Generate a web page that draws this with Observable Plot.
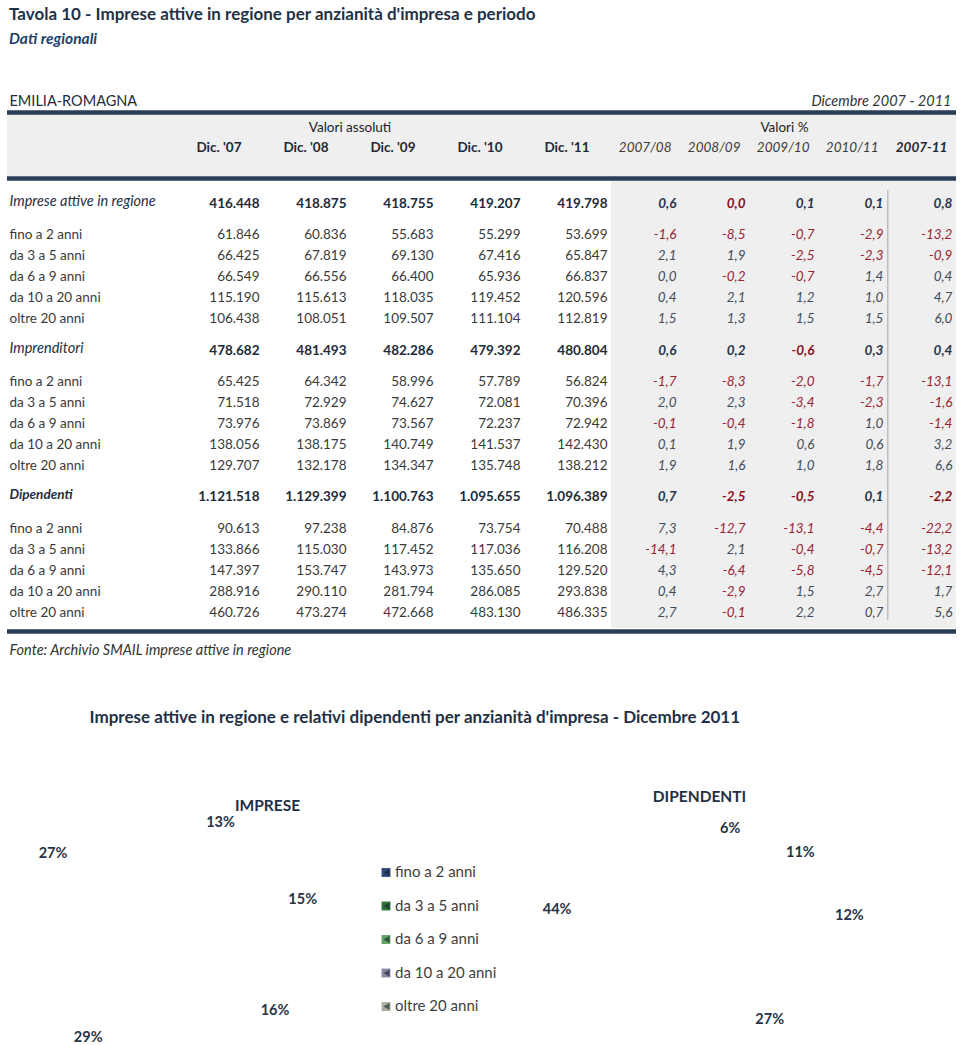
<!DOCTYPE html>
<html lang="it">
<head>
<meta charset="utf-8">
<script src="https://cdn.jsdelivr.net/npm/d3@7"></script>
<script src="https://cdn.jsdelivr.net/npm/@observablehq/plot@0.6"></script>
<style>
  html,body{margin:0;padding:0;background:#fff;}
  #page{position:relative;width:960px;height:1045px;overflow:hidden;font-family:Lato,"Open Sans",sans-serif;}
  #title{position:absolute;left:9px;top:3px;font-size:17px;font-weight:700;color:#1f3247;line-height:22px;white-space:nowrap;}
  #subtitle{position:absolute;left:9px;top:27px;font-size:15.5px;font-weight:700;font-style:italic;color:#1f3f6e;line-height:22px;}
  #table{position:absolute;left:0;top:50px;}
  #pies{position:absolute;left:0;top:670px;}
  svg{display:block;}
</style>
</head>
<body>
<div id="page">
  <div id="title">Tavola 10 - Imprese attive in regione per anzianità d'impresa e periodo</div>
  <div id="subtitle">Dati regionali</div>
  <div id="table"></div>
  <div id="pies"></div>
</div>
<script>
// ---------------- DATA ----------------
const regionName = "EMILIA-ROMAGNA";
const periodLabel = "Dicembre 2007 - 2011";
const absGroupLabel = "Valori assoluti";
const pctGroupLabel = "Valori %";
const absHeaders = ["Dic. '07", "Dic. '08", "Dic. '09", "Dic. '10", "Dic. '11"];
const pctHeaders = ["2007/08", "2008/09", "2009/10", "2010/11", "2007-11"];
const groups = ["Imprese attive in regione", "Imprenditori", "Dipendenti"];
const ageClasses = ["fino a 2 anni", "da 3 a 5 anni", "da 6 a 9 anni", "da 10 a 20 anni", "oltre 20 anni"];

const impreseTot = [416448, 418875, 418755, 419207, 419798];
const impreseByAge = [
  [61846, 60836, 55683, 55299, 53699],
  [66425, 67819, 69130, 67416, 65847],
  [66549, 66556, 66400, 65936, 66837],
  [115190, 115613, 118035, 119452, 120596],
  [106438, 108051, 109507, 111104, 112819]
];
const impresePctTot = [0.6, -0.0, 0.1, 0.1, 0.8];
const impresePctByAge = [
  [-1.6, -8.5, -0.7, -2.9, -13.2],
  [2.1, 1.9, -2.5, -2.3, -0.9],
  [0.0, -0.2, -0.7, 1.4, 0.4],
  [0.4, 2.1, 1.2, 1.0, 4.7],
  [1.5, 1.3, 1.5, 1.5, 6.0]
];
const imprenditoriTot = [478682, 481493, 482286, 479392, 480804];
const imprenditoriByAge = [
  [65425, 64342, 58996, 57789, 56824],
  [71518, 72929, 74627, 72081, 70396],
  [73976, 73869, 73567, 72237, 72942],
  [138056, 138175, 140749, 141537, 142430],
  [129707, 132178, 134347, 135748, 138212]
];
const imprenditoriPctTot = [0.6, 0.2, -0.6, 0.3, 0.4];
const imprenditoriPctByAge = [
  [-1.7, -8.3, -2.0, -1.7, -13.1],
  [2.0, 2.3, -3.4, -2.3, -1.6],
  [-0.1, -0.4, -1.8, 1.0, -1.4],
  [0.1, 1.9, 0.6, 0.6, 3.2],
  [1.9, 1.6, 1.0, 1.8, 6.6]
];
const dipendentiTot = [1121518, 1129399, 1100763, 1095655, 1096389];
const dipendentiByAge = [
  [90613, 97238, 84876, 73754, 70488],
  [133866, 115030, 117452, 117036, 116208],
  [147397, 153747, 143973, 135650, 129520],
  [288916, 290110, 281794, 286085, 293838],
  [460726, 473274, 472668, 483130, 486335]
];
const dipendentiPctTot = [0.7, -2.5, -0.5, 0.1, -2.2];
const dipendentiPctByAge = [
  [7.3, -12.7, -13.1, -4.4, -22.2],
  [-14.1, 2.1, -0.4, -0.7, -13.2],
  [4.3, -6.4, -5.8, -4.5, -12.1],
  [0.4, -2.9, 1.5, 2.7, 1.7],
  [2.7, -0.1, 2.2, 0.7, 5.6]
];
const sourceNote = "Fonte: Archivio SMAIL imprese attive in regione";

const pieTitle = "Imprese attive in regione e relativi dipendenti per anzianità d'impresa - Dicembre 2011";
const pieNames = ["IMPRESE", "DIPENDENTI"];
const impresePieShares = [13, 15, 16, 29, 27];
const dipendentiPieShares = [6, 11, 12, 27, 44];
const ageColors = ["#2e4a7a", "#2f7436", "#5fa35f", "#8a86a3", "#a7ae9a"];

// ---------------- HELPERS ----------------
const itLocale = d3.formatLocale({decimal: ",", thousands: ".", grouping: [3], currency: ["", ""]});
const fmtInt = itLocale.format(",d");
const fmtPct = v => (v < 0 ? "-" : "") + Math.abs(v).toFixed(1).replace(".", ",");
const isNeg = v => v < 0 || Object.is(v, -0);

const FONT = "Lato, 'Open Sans', sans-serif";
const NAVY = "#2b3e57";

// column positions (x units: one unit per absolute column)
const absX = absHeaders.map((_, i) => i);
const pctX = pctHeaders.map((_, j) => 4 + 0.793 * (j + 1));

// row positions (y units: half-row slots)
const sections = [
  {label: groups[0], tot: impreseTot, byAge: impreseByAge, pctTot: impresePctTot, pctByAge: impresePctByAge},
  {label: groups[1], tot: imprenditoriTot, byAge: imprenditoriByAge, pctTot: imprenditoriPctTot, pctByAge: imprenditoriPctByAge},
  {label: groups[2], tot: dipendentiTot, byAge: dipendentiByAge, pctTot: dipendentiPctTot, pctByAge: dipendentiPctByAge}
];
const rows = [];
sections.forEach((s, g) => {
  rows.push({slot: g * 14, label: s.label, abs: s.tot, pct: s.pctTot, group: true, g});
  ageClasses.forEach((a, r) => rows.push({slot: g * 14 + 3 + 2 * r, label: a, abs: s.byAge[r], pct: s.pctByAge[r], group: false, g}));
});
const cells = rows.flatMap(row => [
  ...row.abs.map((v, i) => ({slot: row.slot, x: absX[i], text: fmtInt(v), group: row.group, pct: false, neg: false})),
  ...row.pct.map((v, j) => ({slot: row.slot, x: pctX[j], text: fmtPct(v), group: row.group, pct: true, neg: isNeg(v)}))
]);

// layout of the table frame, in slot units
const L = {
  regionRow: -9.73, topRule: -8.68, bandTop: -8.49, bandBottom: -2.57,
  groupHdrRow: -7.25, colHdrRow: -5.34, midRule: -2.38,
  pctTop: -2.1, pctBottom: 40.53, vTop: -1.24, vBottom: 39.76,
  bottomRule: 40.81, noteRow: 42.62
};

const absCells = cells.filter(d => !d.pct);
const pctCells = cells.filter(d => d.pct);
const pctColor = d => d.neg ? (d.group ? "#8a1020" : "#9a2232") : (d.group ? "#27354a" : "#434c5a");

const table = Plot.plot({
  width: 960, height: 620,
  marginLeft: 7, marginRight: 4, marginTop: 0, marginBottom: 0,
  x: {type: "linear", domain: [0, 4], range: [259, 607], axis: null},
  y: {type: "linear", domain: [0, 39], range: [153, 562], axis: null},
  style: {fontFamily: FONT, background: "#fff", overflow: "visible"},
  marks: [
    Plot.rect([{y1: L.bandTop, y2: L.bandBottom}], {y1: "y1", y2: "y2", fill: "#efefef"}),
    Plot.rect([{x1: 4.045, x2: 8.01, y1: L.pctTop, y2: L.pctBottom}], {x1: "x1", x2: "x2", y1: "y1", y2: "y2", fill: "#efefef"}),
    Plot.ruleY([L.topRule, L.midRule, L.bottomRule], {stroke: NAVY, strokeWidth: 4.5}),
    Plot.ruleX([{x: pctX[3] + 0.05, y1: L.vTop, y2: L.vBottom}], {x: "x", y1: "y1", y2: "y2", stroke: "#a8a8a8", strokeWidth: 1}),
    // heading row
    Plot.text([regionName], {y: () => L.regionRow, text: d => d, frameAnchor: "left", textAnchor: "start", dx: 2, fontSize: 14.5, fill: "#222d3a"}),
    Plot.text([periodLabel], {y: () => L.regionRow, text: d => d, frameAnchor: "right", textAnchor: "end", dx: -5, fontSize: 14.5, fontStyle: "italic", fill: "#333"}),
    Plot.text([absGroupLabel], {x: () => (absX[1] + absX[2]) / 2, y: () => L.groupHdrRow, text: d => d, dx: -40, fontSize: 13.5, fill: "#222"}),
    Plot.text([pctGroupLabel], {x: () => pctX[2], y: () => L.groupHdrRow, text: d => d, dx: -30, fontSize: 13.5, fill: "#222"}),
    Plot.text(absHeaders, {x: (d, i) => absX[i], y: () => L.colHdrRow, text: d => d, textAnchor: "end", dx: -18, fontSize: 13.5, fontWeight: "bold", fill: "#1f2a36"}),
    Plot.text(pctHeaders.slice(0, 4), {x: (d, i) => pctX[i], y: () => L.colHdrRow, text: d => d, textAnchor: "end", dx: -5, fontSize: 13.5, fontStyle: "italic", fill: "#3a3a3a"}),
    Plot.text(pctHeaders.slice(4), {x: () => pctX[4], y: () => L.colHdrRow, text: d => d, textAnchor: "end", dx: -5, fontSize: 13.5, fontStyle: "italic", fontWeight: "bold", fill: "#1f2a36"}),
    // row labels
    Plot.text(rows.filter(r => !r.group), {y: "slot", text: "label", frameAnchor: "left", textAnchor: "start", dx: 2, fontSize: 13.5, fill: "#3a3a3a"}),
    Plot.text(rows.filter(r => r.group && r.g < 2), {y: "slot", text: "label", frameAnchor: "left", textAnchor: "start", dx: 2, dy: -2, fontSize: 14.5, fontStyle: "italic", fill: "#1f2f45"}),
    Plot.text(rows.filter(r => r.group && r.g === 2), {y: "slot", text: "label", frameAnchor: "left", textAnchor: "start", dx: 2, dy: -2, fontSize: 13.5, fontStyle: "italic", fontWeight: "bold", fill: "#1f2f45"}),
    // absolute values
    Plot.text(absCells.filter(d => !d.group), {x: "x", y: "slot", text: "text", textAnchor: "end", fontSize: 13.5, fill: "#3a3a3a"}),
    Plot.text(absCells.filter(d => d.group), {x: "x", y: "slot", text: "text", textAnchor: "end", fontSize: 13.5, fontWeight: "bold", fill: "#222c3a"}),
    // percentage values
    Plot.text(pctCells.filter(d => !d.group), {x: "x", y: "slot", text: "text", textAnchor: "end", fontSize: 13.5, fontStyle: "italic", fill: pctColor}),
    Plot.text(pctCells.filter(d => d.group), {x: "x", y: "slot", text: "text", textAnchor: "end", fontSize: 13.5, fontStyle: "italic", fontWeight: "bold", fill: pctColor}),
    // source
    Plot.text([sourceNote], {y: () => L.noteRow, text: d => d, frameAnchor: "left", textAnchor: "start", dx: 2, fontSize: 14.5, fontStyle: "italic", fill: "#333"})
  ]
});
document.getElementById("table").append(table);

// ---------------- PIES (labels only, as in the reference) ----------------
function pieLabels(shares, cx, cy, rx, ry, name) {
  const arcs = d3.pie().sort(null).value(d => d)(shares);
  return arcs.map((a, i) => {
    const t = (a.startAngle + a.endAngle) / 2;
    return {x: cx + rx * Math.sin(t), y: cy - ry * Math.cos(t), text: shares[i] + "%", pie: name, age: ageClasses[i]};
  });
}
const pieGeom = [
  {name: pieNames[0], shares: impresePieShares, cx: 162, cy: 263, rx: 146, ry: 121, titleX: 267, titleY: 136},
  {name: pieNames[1], shares: dipendentiPieShares, cx: 702, cy: 258, rx: 148, ry: 102, titleX: 699, titleY: 127}
];
const labels = pieGeom.flatMap(p => pieLabels(p.shares, p.cx, p.cy, p.rx, p.ry, p.name));
const legendX = 385.5, legendTop = 202, legendStep = 33.5;
const legend = ageClasses.map((a, i) => ({name: a, color: ageColors[i], x: legendX, y: legendTop + i * legendStep}));

const pies = Plot.plot({
  width: 960, height: 375, margin: 0,
  x: {type: "linear", domain: [0, 960], range: [0, 960], axis: null},
  y: {type: "linear", domain: [0, 375], range: [0, 375], axis: null},
  style: {fontFamily: FONT, background: "#fff", overflow: "visible"},
  marks: [
    Plot.text([pieTitle], {x: () => 89, y: () => 47, text: d => d, textAnchor: "start", fontSize: 17, fontWeight: "bold", fill: "#1f3046"}),
    Plot.text(pieGeom, {x: "titleX", y: "titleY", text: "name", fontSize: 15.5, fontWeight: "bold", fill: "#1f2f45"}),
    Plot.text(labels, {x: "x", y: "y", text: "text", fontSize: 14.5, fontWeight: "bold", fill: "#263447"}),
    Plot.dot(legend, {x: "x", y: "y", symbol: "square", r: 5, fill: "color"}),
    Plot.dot(legend, {x: "x", y: "y", symbol: "triangle", r: 2.6, rotate: -90, dx: 1.5, fill: "#15202e", fillOpacity: 0.6}),
    Plot.text(legend, {x: "x", y: "y", text: "name", textAnchor: "start", dx: 9, fontSize: 15, fill: "#404040"})
  ]
});
document.getElementById("pies").append(pies);
</script>
</body>
</html>
